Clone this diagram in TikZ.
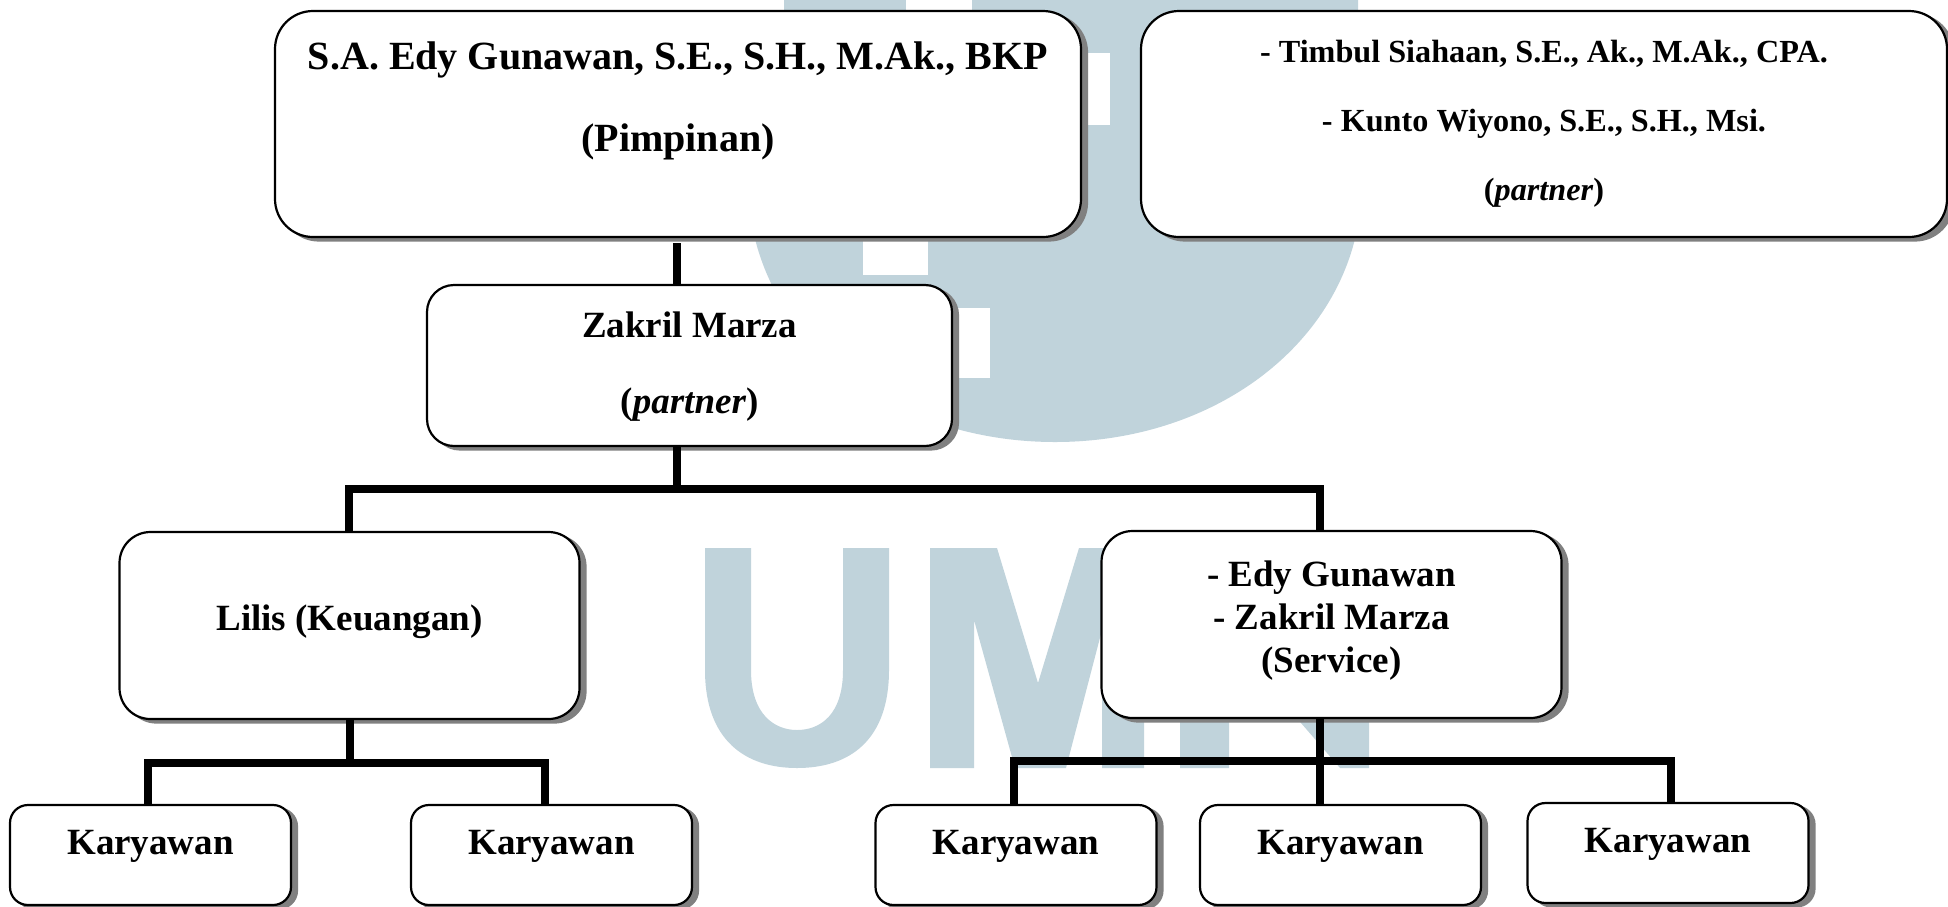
\documentclass[tikz,border=0pt]{standalone}
\usepackage{fontspec}
\setmainfont{Liberation Serif}
\usetikzlibrary{shadows}
\definecolor{wmark}{RGB}{192,211,219}
\definecolor{shadowgray}{RGB}{128,128,128}
\tikzset{
  orgbox/.style={draw=black,fill=white,line width=2.2pt,outer sep=0pt,inner sep=0pt,align=center,
    font=\bfseries\fontsize{37}{44}\selectfont,
    copy shadow={shadow xshift=6pt,shadow yshift=-3.5pt,fill=shadowgray,draw=shadowgray}},
  bigbox/.style={orgbox,rounded corners=38pt,minimum width=806pt,minimum height=226pt},
  midbox/.style={orgbox,rounded corners=27pt},
  lowbox/.style={orgbox,rounded corners=31pt,minimum width=460pt,minimum height=187pt},
  staffbox/.style={orgbox,rounded corners=18pt,minimum width=281pt,minimum height=100pt},
  link/.style={draw=black,line width=7.5pt,line cap=butt,line join=miter},
  wm/.style={fill=wmark,draw=none},
  wmhole/.style={fill=white,draw=none}
}
\newcommand{\tail}[1]{\\[#1]\mbox{}}
\begin{document}
\begin{tikzpicture}[x=1pt,y=-1pt]
\useasboundingbox (0,0) rectangle (1948,906);
\clip (0,0) rectangle (1948,906);
% watermark logo
\fill[wm] (752,0) -- (752,225) .. controls (775,350) and (900,442) .. (1055,442)
  .. controls (1210,442) and (1335,350) .. (1358,225) -- (1358,0) -- cycle;
\fill[wmhole] (752,0) rectangle (784,10);
\fill[wmhole] (906,0) rectangle (972,10);
\fill[wmhole] (1050,53) rectangle (1110,125);
\fill[wmhole] (863,190) rectangle (928,275);
\fill[wmhole] (930,308) rectangle (990,378);
% U
\fill[wm] (705,548) -- (751,548) -- (751,670) .. controls (751,715) and (775,730) .. (797,730)
  .. controls (820,730) and (843,715) .. (843,670) -- (843,548) -- (889,548) -- (889,670)
  .. controls (889,740) and (850,768) .. (797,768) .. controls (745,768) and (705,740) .. (705,670) -- cycle;
% M
\fill[wm] (930,768) -- (930,548) -- (997,548) -- (1038,683) -- (1079,548) -- (1144,548) -- (1144,768)
  -- (1102,768) -- (1102,630) -- (1066,768) -- (1015,768) -- (974,620) -- (974,768) -- cycle;
% N
\fill[wm] (1180,768) -- (1180,548) -- (1245,548) -- (1323,650) -- (1323,548) -- (1369,548) -- (1369,768)
  -- (1340,768) -- (1229,640) -- (1229,768) -- cycle;
% boxes
\node[bigbox,font=\bfseries\fontsize{40}{82}\selectfont] (lead) at (678,124)
  {S.A. Edy Gunawan, S.E., S.H., M.Ak., BKP\\(Pimpinan)\tail{-28pt}};
\node[bigbox,font=\bfseries\fontsize{32.2}{69}\selectfont] (others) at (1544,124)
  {- Timbul Siahaan, S.E., Ak., M.Ak., CPA.\\- Kunto Wiyono, S.E., S.H., Msi.\\(\textit{partner})\tail{-61pt}};
\node[midbox,minimum width=525pt,minimum height=161pt,font=\bfseries\fontsize{37}{76}\selectfont] (zakril) at (689.5,365.5)
  {Zakril Marza\\(\textit{partner})\tail{-71pt}};
\node[lowbox] (lilis) at (349.5,625.5) {Lilis (Keuangan)\tail{-28pt}};
\node[lowbox,font=\bfseries\fontsize{37}{43}\selectfont] (service) at (1331.5,624.5)
  {- Edy Gunawan\\- Zakril Marza\\(Service)\tail{-27pt}};
\node[staffbox] (k1) at (150.5,855) {Karyawan\tail{-18pt}};
\node[staffbox] (k2) at (551.5,855) {Karyawan\tail{-18pt}};
\node[staffbox] (k3) at (1016,855) {Karyawan\tail{-18pt}};
\node[staffbox] (k4) at (1340.5,855) {Karyawan\tail{-18pt}};
\node[staffbox] (k5) at (1668,853) {Karyawan\tail{-18pt}};
% junction points
\coordinate (trunk) at (677,489);
\coordinate (busL) at (349,489);
\coordinate (busR) at (1320,489);
\coordinate (lowL) at (148,763);
\coordinate (lowM) at (350,763);
\coordinate (lowR) at (545,763);
\coordinate (svcL) at (1014,761);
\coordinate (svcM) at (1320,761);
\coordinate (svcR) at (1671,761);
% connectors
\draw[link] ([yshift=-6pt]lead.south -| trunk) -- (trunk |- zakril.north);
\draw[link] (trunk |- zakril.south) -- (trunk);
\draw[link] (busL |- lilis.north) -- (busL) -- (busR) -- (busR |- service.north);
\draw[link] (lowM |- lilis.south) -- (lowM);
\draw[link] (lowL |- k1.north) -- (lowL) -- (lowR) -- (lowR |- k2.north);
\draw[link] (svcM |- service.south) -- (svcM |- k4.north);
\draw[link] (svcL |- k3.north) -- (svcL) -- (svcR) -- (svcR |- k5.north);
\end{tikzpicture}
\end{document}
